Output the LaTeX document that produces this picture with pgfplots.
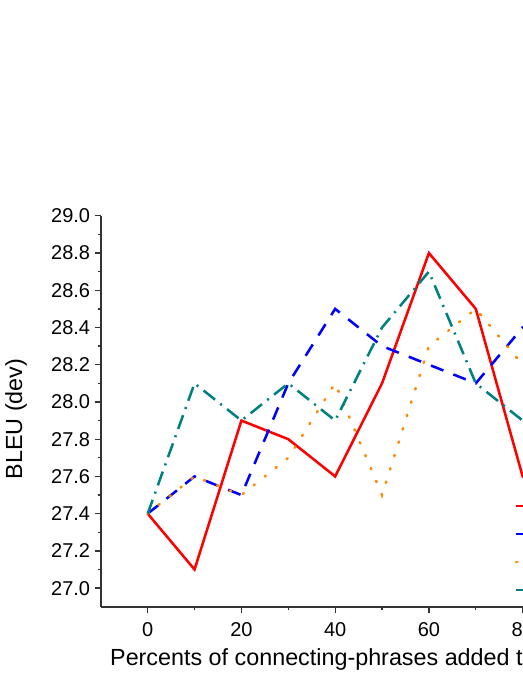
\documentclass[border=0pt]{standalone}
\usepackage{fontspec}
\setmainfont{Liberation Sans}
\usepackage{pgfplots}
\pgfplotsset{compat=1.18}
\definecolor{cRed}{RGB}{255,0,0}
\definecolor{cBlue}{RGB}{0,0,255}
\definecolor{cOrange}{RGB}{255,136,0}
\definecolor{cTeal}{RGB}{0,128,128}
\begin{document}
\begin{tikzpicture}
\useasboundingbox (0,0) rectangle (392.25pt,507.75pt);
\begin{axis}[
  at={(75.6pt,52.7pt)}, anchor=south west,
  scale only axis, width=386.7pt, height=293.2pt,
  xmin=-10, xmax=100, ymin=26.9, ymax=29.0,
  axis x line*=bottom, axis y line*=left,
  x axis line style={-}, y axis line style={-},
  axis line style={line width=1.2pt, black!80},
  tick align=outside,
  major tick length=4.5pt, minor tick length=2.4pt,
  every tick/.style={line width=1pt, black!80},
  xtick={0,20,40,60,80,100}, minor x tick num=1,
  ytick={27.0,27.2,27.4,27.6,27.8,28.0,28.2,28.4,28.6,28.8,29.0}, minor y tick num=1,
  yticklabel style={/pgf/number format/.cd, fixed, fixed zerofill, precision=1},
  xticklabel style={yshift=-3.5pt},
  /pgf/number format/assume math mode=true,
  tick label style={font=\fontsize{15}{18}\selectfont},
  label style={font=\fontsize{17.5}{21}\selectfont},
  xlabel={Percents of connecting-phrases added to the training data},
  xlabel style={at={(axis description cs:0.0177,-0.1491)}, anchor=base west, inner sep=0pt},
  ylabel={BLEU (dev)},
  ylabel style={at={(axis description cs:-0.1645,0.480)}, anchor=center},
  legend style={draw=none, fill=none, at={(axis cs:78.3,27.447)}, anchor=north west,
    inner sep=0pt, outer sep=0pt, nodes={inner sep=0pt}, row sep=19pt},
  legend cell align=left,
]
\addplot[cRed, line width=1.9pt] coordinates {
 (0,27.4) (10,27.1) (20,27.9) (30,27.8) (40,27.6) (50,28.1) (60,28.8) (70,28.5) (80,27.6) (90,27.5)};
\addlegendentry{}
\addplot[cBlue, line width=1.9pt, dash pattern=on 10pt off 8pt] coordinates {
 (0,27.4) (10,27.6) (20,27.5) (30,28.1) (40,28.5) (50,28.3) (60,28.2) (70,28.1) (80,28.4) (90,28.3)};
\addlegendentry{}
\addplot[cOrange, line width=1.9pt, line cap=round, dash pattern=on 1pt off 9.5pt] coordinates {
 (0,27.4) (10,27.6) (20,27.5) (30,27.7) (40,28.1) (50,27.5) (60,28.3) (70,28.5) (80,28.2) (90,28.1)};
\addlegendentry{}
\addplot[cTeal, line width=1.9pt, dash pattern=on 11pt off 5pt on 1.5pt off 5pt] coordinates {
 (0,27.4) (10,28.1) (20,27.9) (30,28.1) (40,27.9) (50,28.4) (60,28.7) (70,28.1) (80,27.9) (90,28.0)};
\addlegendentry{}
\end{axis}
\end{tikzpicture}
\end{document}
